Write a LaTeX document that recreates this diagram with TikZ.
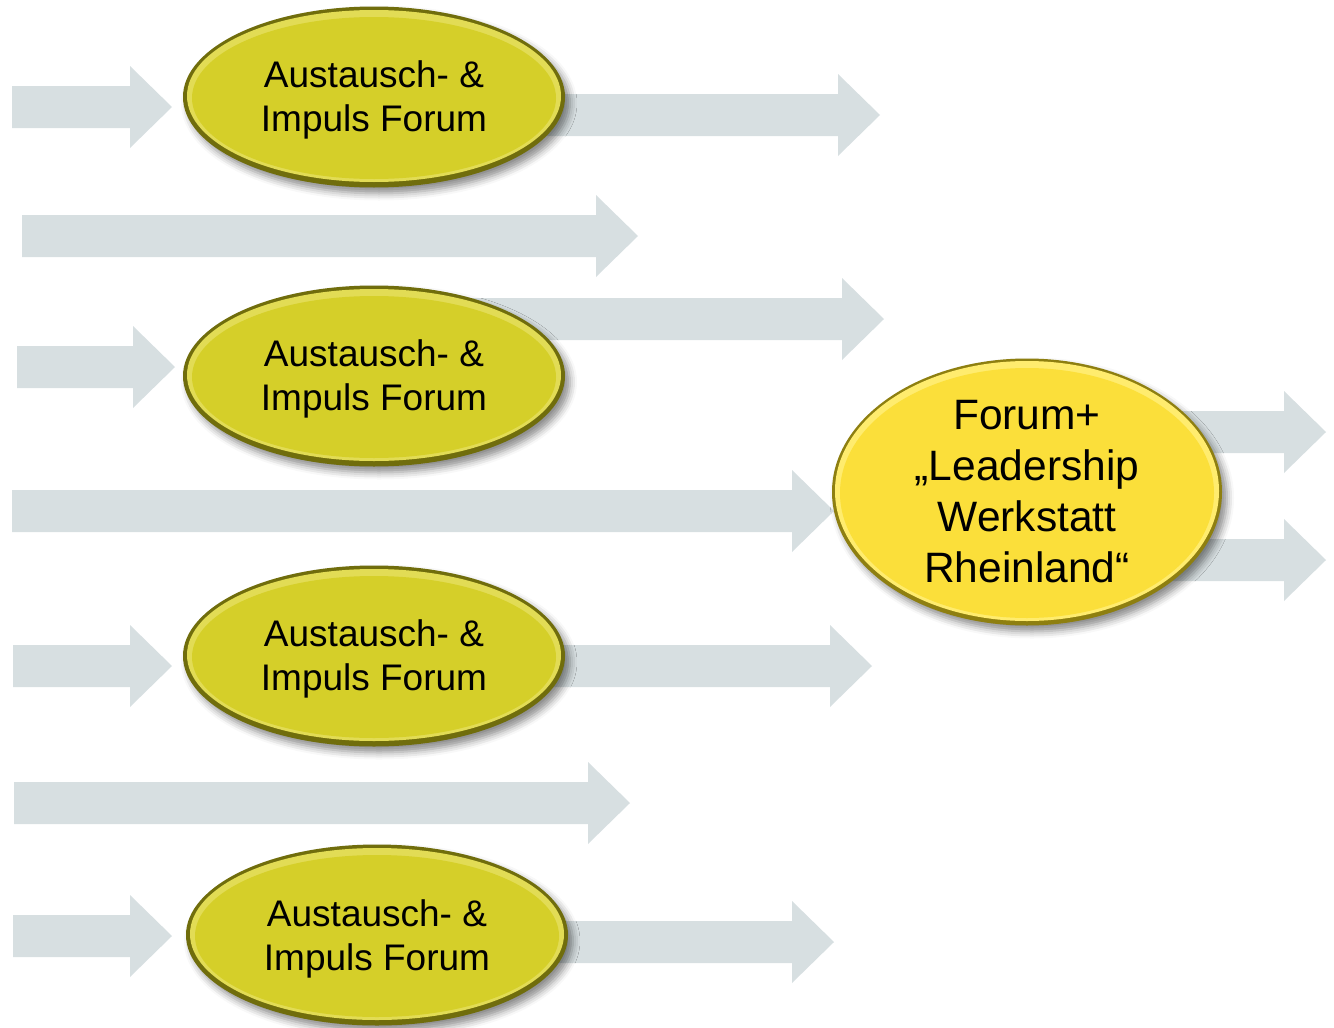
\documentclass[tikz,border=0pt]{standalone}
\usepackage{fontspec}
\setmainfont{Liberation Sans}
\usetikzlibrary{shapes.geometric,shadows.blur}
\definecolor{arrowc}{HTML}{D7DFE1}
\definecolor{smallface}{HTML}{D5CF29}
\definecolor{smallrim}{HTML}{706D0C}
\definecolor{smalllight}{HTML}{E2DC55}
\definecolor{bigface}{HTML}{FBDF3A}
\definecolor{bigrim}{HTML}{8E7F10}
\definecolor{biglight}{HTML}{FFEC6E}
\newcommand{\blockarrow}[3]{%
  \fill[arrowc] (#1,#3-21) -- (#2-42,#3-21) -- (#2-42,#3-41) -- (#2,#3)
    -- (#2-42,#3+41) -- (#2-42,#3+21) -- (#1,#3+21) -- cycle;}
\tikzset{
  forum/.style={ellipse, minimum width=382pt, minimum height=181pt, inner sep=0pt,
    align=center, fill=smallrim, font=\fontsize{37}{44}\selectfont,
    blur shadow={shadow xshift=5pt, shadow yshift=-6pt, shadow blur radius=7pt, shadow opacity=45},
    path picture={
      \fill[smalllight] ([yshift=1pt]path picture bounding box.center) ellipse [x radius=187pt, y radius=86pt];
      \fill[smallface] ([yshift=-1pt]path picture bounding box.center) ellipse [x radius=182pt, y radius=81pt];}},
  bigforum/.style={ellipse, minimum width=390pt, minimum height=267pt, inner sep=0pt,
    align=center, fill=bigrim, font=\fontsize{42.5}{51}\selectfont,
    blur shadow={shadow xshift=5pt, shadow yshift=-6pt, shadow blur radius=7pt, shadow opacity=45},
    path picture={
      \fill[biglight] ([yshift=1pt]path picture bounding box.center) ellipse [x radius=192pt, y radius=130pt];
      \fill[bigface] ([yshift=-1pt]path picture bounding box.center) ellipse [x radius=187pt, y radius=125pt];}},
  lbl/.style={align=center, inner sep=0pt, font=\fontsize{37}{44}\selectfont}
}
\begin{document}
\begin{tikzpicture}[x=1pt,y=-1pt]
\useasboundingbox (0,0) rectangle (1334,1028);
% block arrows
\blockarrow{12}{172}{107}
\blockarrow{480}{880}{115}
\blockarrow{22}{638}{236}
\blockarrow{400}{884}{319}
\blockarrow{17}{175}{367}
\blockarrow{12}{834}{511}
\blockarrow{13}{172}{666}
\blockarrow{480}{872}{666}
\blockarrow{14}{630}{803}
\blockarrow{13}{172}{936}
\blockarrow{480}{834}{942}
\blockarrow{1100}{1326}{432}
\blockarrow{1100}{1326}{560}
% ellipses
\node[forum] (f1) at (374,97) {};
\node[lbl] (t1) at (374,100) {Austausch- \&\\Impuls Forum};
\node[forum] (f2) at (374,376) {};
\node[lbl] (t2) at (374,379) {Austausch- \&\\Impuls Forum};
\node[forum] (f3) at (374,656) {};
\node[lbl] (t3) at (374,659) {Austausch- \&\\Impuls Forum};
\node[forum] (f4) at (377,935) {};
\node[lbl] (t4) at (377,939) {Austausch- \&\\Impuls Forum};
\node[bigforum] (big) at (1027,492) {Forum+\\„Leadership\\Werkstatt\\Rheinland“};
\end{tikzpicture}
\end{document}
